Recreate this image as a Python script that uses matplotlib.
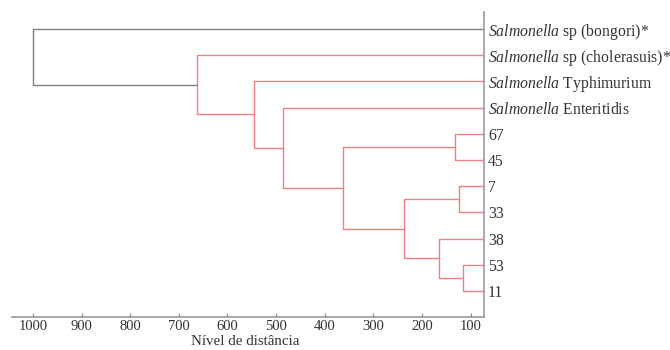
import matplotlib
matplotlib.use("Agg")
import matplotlib.pyplot as plt

plt.rcParams["font.family"] = "Liberation Serif"
plt.rcParams["mathtext.fontset"] = "custom"
plt.rcParams["mathtext.rm"] = "Liberation Serif"
plt.rcParams["mathtext.it"] = "Liberation Serif:italic"

# leaves, top to bottom
leaves = [
    r"$\mathit{Salmonella}$ sp (bongori)*",
    r"$\mathit{Salmonella}$ sp (cholerasuis)*",
    r"$\mathit{Salmonella}$ Typhimurium",
    r"$\mathit{Salmonella}$ Enteritidis",
    "67", "45", "7", "33", "38", "53", "11",
]

# merges: (left node, right node, distance); new nodes get ids 11, 12, ...
merges = [
    (4, 5, 133),     # 11
    (6, 7, 123),     # 12
    (9, 10, 116),    # 13
    (8, 13, 164),    # 14
    (12, 14, 238),   # 15
    (11, 15, 363),   # 16
    (3, 16, 486),    # 17
    (2, 17, 546),    # 18
    (1, 18, 663),    # 19
    (0, 19, 1000),   # 20
]
link_colors = ["#f08080"] * 9 + ["#7f7f7f"]

x_ticks = [1000, 900, 800, 700, 600, 500, 400, 300, 200, 100]

fig = plt.figure(figsize=(6.7, 3.5), dpi=100)
ax = fig.add_axes([0.018, 0.094, 0.704, 0.872])

ypos = {i: i for i in range(len(leaves))}
xpos = {i: 0 for i in range(len(leaves))}
for k, (a, b, d) in enumerate(merges):
    c = link_colors[k]
    ax.plot([xpos[a], d, d, xpos[b]], [ypos[a], ypos[a], ypos[b], ypos[b]],
            color=c, lw=1.0, solid_capstyle="butt")
    nid = len(leaves) + k
    ypos[nid] = (ypos[a] + ypos[b]) / 2
    xpos[nid] = d

ax.set_xlim(1043, 73)
ax.set_ylim(len(leaves), -0.65)

ax.set_xticks(x_ticks)
ax.set_xticklabels([str(t) for t in x_ticks])
ax.tick_params(axis="x", direction="in", length=3, color="#888888",
               labelsize=10.5, labelcolor="#333333", pad=2)
ax.set_xlabel("Nível de distância", fontsize=10.8, color="#333333")
ax.xaxis.set_label_coords(0.494, -0.06)

ax.yaxis.tick_right()
ax.set_yticks(range(len(leaves)))
ax.set_yticklabels(leaves)
ax.tick_params(axis="y", length=0, pad=3, labelsize=11.3, labelcolor="#333333")

for s in ["top", "left"]:
    ax.spines[s].set_visible(False)
for s in ["bottom", "right"]:
    ax.spines[s].set_color("#999999")
    ax.spines[s].set_linewidth(1.2)

fig.savefig("out.png", dpi=100)
